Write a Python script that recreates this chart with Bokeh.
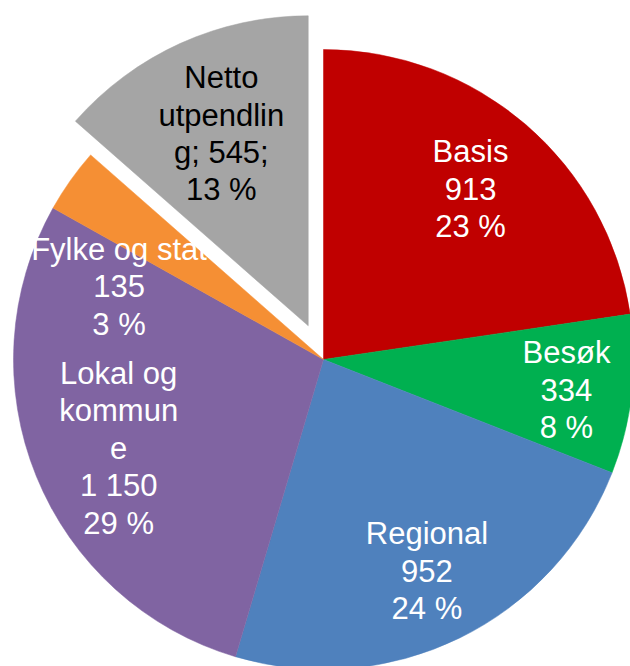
import numpy as np
from bokeh.plotting import figure
from bokeh.models import Range1d, ColumnDataSource
from bokeh.core.properties import value
from bokeh.embed import file_html
from bokeh.resources import INLINE

# ---- data ----
categories = ["Basis", "Besøk", "Regional", "Lokal og kommune", "Fylke og stat", "Netto utpendling"]
values = [913, 334, 952, 1150, 135, 545]
label_texts = [
    "Basis\n913\n23 %",
    "Besøk\n334\n8 %",
    "Regional\n952\n24 %",
    "Lokal og\nkommun\ne\n1 150\n29 %",
    "Fylke og stat\n135\n3 %",
    "Netto\nutpendlin\ng; 545;\n13 %",
]
colors = ["#C00000", "#00B050", "#4F81BD", "#8064A2", "#F58F34", "#A5A5A5"]
text_colors = ["white", "white", "white", "white", "white", "black"]

# ---- layout constants ----
W, H = 630, 666
explode = [0, 0, 0, 0, 0, 37]           # px offset along bisector
label_r = [0.726, 0.79, 0.76, 0.72, 0.70, 0.68]  # fraction of radius
label_shift = [0, 0.7, 0, -1.3, -15.7, 0]        # degrees (clockwise)
CX, CY, R = 323, H - 359, 310

vals = np.array(values, dtype=float)
frac = vals / vals.sum()
cum_end = np.cumsum(frac) * 360.0
cum_start = cum_end - frac * 360.0
mid = (cum_start + cum_end) / 2.0

xs, ys, starts, ends, lx, ly = [], [], [], [], [], []
for i in range(len(values)):
    m = np.radians(mid[i])
    ox = CX + explode[i] * np.sin(m)
    oy = CY + explode[i] * np.cos(m)
    xs.append(ox)
    ys.append(oy)
    starts.append(np.radians(90 - cum_start[i]))
    ends.append(np.radians(90 - cum_end[i]))
    la = np.radians(mid[i] + label_shift[i])
    lx.append(ox + label_r[i] * R * np.sin(la))
    ly.append(oy + label_r[i] * R * np.cos(la))

src = ColumnDataSource(dict(x=xs, y=ys, start=starts, end=ends, color=colors,
                            cat=categories))
lsrc = ColumnDataSource(dict(x=lx, y=ly, text=label_texts, tc=text_colors))

p = figure(width=W, height=H, x_range=Range1d(0, W), y_range=Range1d(0, H),
           x_axis_type=None, y_axis_type=None, toolbar_location=None,
           output_backend="svg", min_border=0, outline_line_color=None)
p.grid.visible = False
p.background_fill_color = "white"
p.border_fill_color = "white"

p.wedge(x="x", y="y", radius=R, start_angle="start", end_angle="end",
        direction="clock", fill_color="color", line_color="color", line_width=0.5,
        source=src)

p.text(x="x", y="y", text="text", source=lsrc, text_align="center",
       text_baseline="middle", text_color="tc",
       text_font=value("Liberation Sans"), text_font_size="31px",
       text_line_height=1.07)

open("out.html", "w").write(file_html(p, INLINE))
